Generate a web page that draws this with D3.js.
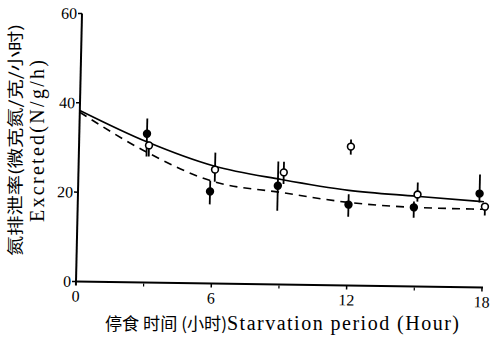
<!DOCTYPE html>
<html>
<head>
<meta charset="utf-8">
<script src="https://cdn.jsdelivr.net/npm/d3@7/dist/d3.min.js"></script>
<style>
  html, body { margin: 0; padding: 0; background: #fff; }
  svg { display: block; }
  .serif { font-family: "Liberation Serif", "DejaVu Serif", serif; }
  .cjk { font-family: "Noto Sans CJK SC", sans-serif; }
</style>
</head>
<body>
<svg id="chart" width="492" height="339"></svg>
<script>
// Axis ticks
const xTicks = [0, 6, 12, 18];
const xMinorTicks = [3, 9, 15];
const yTicks = [0, 20, 40, 60];

// Fitted curves (hours → excretion rate)
const curveHours = [0, 3, 6, 9, 12, 15, 18];
const solidCurve = [38.3, 31.5, 26.3, 23.5, 21.3, 20.2, 19.2];
const dashedCurve = [37.9, 29.2, 22.8, 20.6, 18.6, 17.7, 17.5];

// Filled-circle series: time, mean, error range
const filledHours = [3.0, 5.85, 8.85, 12.0, 14.9, 17.8];
const filledMean  = [33.3, 20.6, 22.1, 18.1, 17.7, 21.0];
const filledLow   = [28.2, 17.7, 16.5, 15.4, 15.4, 19.0];
const filledHigh  = [36.7, 23.0, 27.5, 20.4, 19.0, 25.3];

// Open-circle series: time, mean, error range
const openHours = [3.1, 6.05, 9.1, 12.05, 15.05, 18.05];
const openMean  = [30.7, 25.5, 25.1, 31.1, 20.6, 18.1];
const openLow   = [28.2, 22.8, 22.5, 29.3, 19.0, 16.1];
const openHigh  = [31.5, 29.3, 27.5, 32.7, 23.3, 18.5];

const svg = d3.select("#chart");

// Plot frame: origin of the axes, slightly skewed like the printed figure
const ox = 76, oy = 281.5;
const plotW = 406, plotH = 268;

const x = d3.scaleLinear().domain([0, 18]).range([0, plotW]);
const y = d3.scaleLinear().domain([0, 60]).range([0, -plotH]);

const g = svg.append("g")
  .attr("transform", `translate(${ox},${oy}) matrix(1,0.0147,-0.0224,1,0,0)`);

// Axes
g.append("line").attr("x1", x(0)).attr("x2", x(18) + 1).attr("y1", 0).attr("y2", 0)
  .attr("stroke", "#000").attr("stroke-width", 2);
g.append("line").attr("x1", 0).attr("x2", 0).attr("y1", y(0) + 4).attr("y2", y(60))
  .attr("stroke", "#000").attr("stroke-width", 2);

// Y ticks and labels
g.selectAll(".ytick").data(yTicks).enter().append("line")
  .attr("x1", -4).attr("x2", 0).attr("y1", d => y(d)).attr("y2", d => y(d))
  .attr("stroke", "#000").attr("stroke-width", 1.5);
g.selectAll(".ylab").data(yTicks).enter().append("text")
  .attr("class", "serif")
  .attr("x", -5).attr("y", d => y(d) + 5.5)
  .attr("text-anchor", "end").attr("font-size", 16)
  .text(d => d);

// X ticks and labels
g.selectAll(".xtick").data(xTicks.filter(d => d > 0)).enter().append("line")
  .attr("x1", d => x(d)).attr("x2", d => x(d)).attr("y1", 0).attr("y2", 4)
  .attr("stroke", "#000").attr("stroke-width", 1.5);
g.selectAll(".xminor").data(xMinorTicks).enter().append("line")
  .attr("x1", d => x(d)).attr("x2", d => x(d)).attr("y1", 1).attr("y2", 4)
  .attr("stroke", "#000").attr("stroke-width", 1.2);
g.selectAll(".xlab").data(xTicks).enter().append("text")
  .attr("class", "serif")
  .attr("x", d => x(d)).attr("y", 20)
  .attr("text-anchor", "middle").attr("font-size", 16)
  .text(d => d);

// Curves
const lineGen = d3.line()
  .x(d => x(d[0])).y(d => y(d[1]))
  .curve(d3.curveMonotoneX);

g.append("path")
  .datum(curveHours.map((h, i) => [h, solidCurve[i]]))
  .attr("d", lineGen).attr("fill", "none")
  .attr("stroke", "#000").attr("stroke-width", 1.6);

g.append("path")
  .datum(curveHours.map((h, i) => [h, dashedCurve[i]]))
  .attr("d", lineGen).attr("fill", "none")
  .attr("stroke", "#000").attr("stroke-width", 1.6)
  .attr("stroke-dasharray", "8,6");

// Error bars
function errorBars(hours, lo, hi) {
  g.append("g").selectAll("line").data(hours).enter().append("line")
    .attr("x1", d => x(d)).attr("x2", d => x(d))
    .attr("y1", (d, i) => y(lo[i])).attr("y2", (d, i) => y(hi[i]))
    .attr("stroke", "#000").attr("stroke-width", 1.8);
}
errorBars(filledHours, filledLow, filledHigh);
errorBars(openHours, openLow, openHigh);

// Points
g.append("g").selectAll("circle").data(filledHours).enter().append("circle")
  .attr("cx", d => x(d)).attr("cy", (d, i) => y(filledMean[i]))
  .attr("r", 4.2).attr("fill", "#000");

g.append("g").selectAll("circle").data(openHours).enter().append("circle")
  .attr("cx", d => x(d)).attr("cy", (d, i) => y(openMean[i]))
  .attr("r", 3.4).attr("fill", "#fff")
  .attr("stroke", "#000").attr("stroke-width", 1.6);

// Axis titles
svg.append("text")
  .attr("class", "cjk")
  .attr("transform", "translate(21,140) rotate(-90)")
  .attr("text-anchor", "middle").attr("font-size", 16)
  .attr("textLength", 232).attr("lengthAdjust", "spacingAndGlyphs")
  .text("氮排泄率(微克氮/克/小时)");

svg.append("text")
  .attr("class", "serif")
  .attr("transform", "translate(44,141) rotate(-90)")
  .attr("text-anchor", "middle").attr("font-size", 20)
  .attr("textLength", 162).attr("lengthAdjust", "spacing")
  .text("Excreted(N/g/h)");

const xTitle = svg.append("text")
  .attr("x", 105).attr("y", 330).attr("font-size", 17);
xTitle.append("tspan").attr("class", "cjk")
  .attr("textLength", 122).attr("lengthAdjust", "spacingAndGlyphs")
  .text("停食 时间 (小时)");
xTitle.append("tspan").attr("class", "serif").attr("font-size", 20)
  .attr("textLength", 232).attr("lengthAdjust", "spacing")
  .text("Starvation period (Hour)");
</script>
</body>
</html>
